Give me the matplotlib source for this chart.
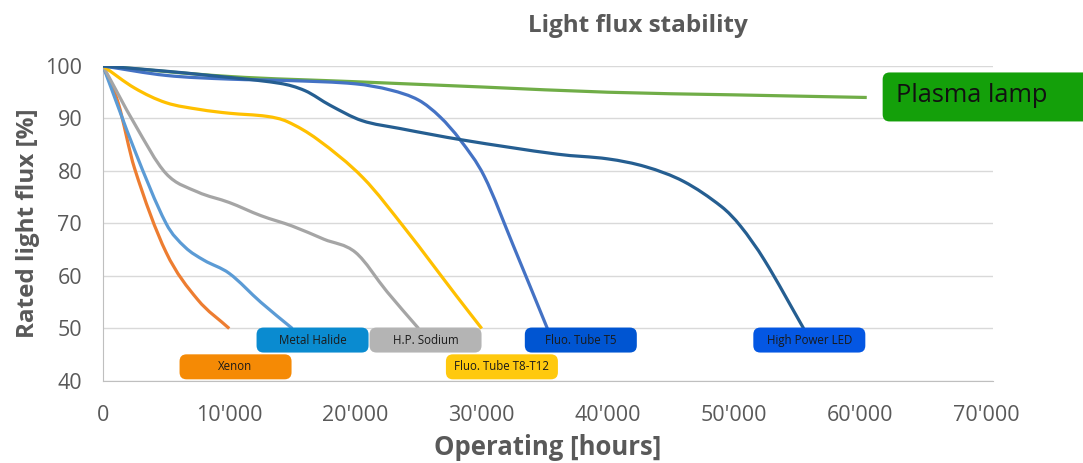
import numpy as np
import matplotlib.pyplot as plt
from matplotlib.path import Path
from matplotlib.patches import PathPatch, FancyBboxPatch
import matplotlib.transforms as mtransforms

plt.rcParams['font.family'] = ['Open Sans', 'DejaVu Sans']

# Operating hours / rated light flux [%] per lamp type
xenon_x = [0, 1200, 2500, 5000, 7500, 10000]
xenon_y = [100, 93, 80.5, 64.5, 55.5, 50]

halide_x = [0, 2500, 5000, 6500, 8000, 10000, 12500, 15000]
halide_y = [100, 84, 70, 65.5, 63, 60.5, 55, 50]

sodium_x = [0, 2500, 5000, 7500, 10000, 12500, 15000, 17500, 20000, 22500, 25000]
sodium_y = [100, 89, 79.5, 76, 74, 71.5, 69.5, 67, 64.5, 57, 50]

t8_x = [0, 2500, 5000, 7700, 10000, 13000, 14600, 17000, 20600, 24000, 28000, 30000]
t8_y = [100, 95.8, 93, 91.7, 91, 90.4, 89.4, 86, 78.7, 68.8, 56.2, 50]

t5_x = [0, 5000, 10000, 15000, 20000, 22800, 25000, 26700, 28300, 30200, 32500, 35200]
t5_y = [100, 98.2, 97.5, 97.2, 96.6, 95.4, 93.5, 90.3, 85.9, 79, 65.8, 50]

led_x = [0, 5000, 8000, 14000, 16000, 18000, 20500, 23500, 28500, 36000, 40000,
         43000, 46000, 49000, 50500, 52400, 55500]
led_y = [100, 99, 98.3, 96.7, 95.3, 92.5, 89.6, 88.1, 85.9, 83.2, 82.3,
         80.8, 78, 73.2, 69.5, 63, 50]

plasma_x = [0, 10000, 20000, 30000, 40000, 50000, 60500]
plasma_y = [100, 98, 97, 96, 95, 94.5, 94]

series = [
    (xenon_x, xenon_y, '#ED7D31'),
    (halide_x, halide_y, '#5B9BD5'),
    (sodium_x, sodium_y, '#A5A5A5'),
    (t8_x, t8_y, '#FFC000'),
    (plasma_x, plasma_y, '#70AD47'),
    (t5_x, t5_y, '#4472C4'),
    (led_x, led_y, '#255E91'),
]

# label boxes: text, centre (hours, %), colour
labels = [
    ('Xenon', 10500, 42.7, '#F58A05'),
    ('Metal Halide', 16600, 47.8, '#0A8BD0'),
    ('H.P. Sodium', 25550, 47.8, '#B4B4B4'),
    ('Fluo. Tube T8-T12', 31600, 42.7, '#FFC90E'),
    ('Fluo. Tube T5', 37850, 47.8, '#0055D2'),
    ('High Power LED', 55950, 47.8, '#0457E3'),
]

xticks = np.arange(0, 70001, 10000)
xtick_labels = ['0', "10'000", "20'000", "30'000", "40'000", "50'000", "60'000", "70'000"]
yticks = np.arange(40, 101, 10)


def smooth_path(xs, ys):
    # cubic Hermite with central-difference slopes, drawn as Bezier segments
    x = np.asarray(xs, float)
    y = np.asarray(ys, float)
    h = np.diff(x)
    m = np.empty_like(y)
    m[0] = (y[1] - y[0]) / h[0]
    m[-1] = (y[-1] - y[-2]) / h[-1]
    m[1:-1] = (y[2:] - y[:-2]) / (x[2:] - x[:-2])
    verts = [(x[0], y[0])]
    codes = [Path.MOVETO]
    for i in range(len(x) - 1):
        verts += [(x[i] + h[i] / 3, y[i] + m[i] * h[i] / 3),
                  (x[i + 1] - h[i] / 3, y[i + 1] - m[i + 1] * h[i] / 3),
                  (x[i + 1], y[i + 1])]
        codes += [Path.CURVE4] * 3
    return Path(verts, codes)


fig = plt.figure(figsize=(10.83, 4.63), dpi=100)
ax = fig.add_axes([0.0951, 0.1771, 0.8218, 0.6804])
ax.set_xlim(0, 70500)
ax.set_ylim(40, 100)

for xs, ys, col in series:
    ax.add_patch(PathPatch(smooth_path(xs, ys), fill=False, edgecolor=col,
                           lw=2.3, capstyle='butt', zorder=3))

ax.set_yticks(yticks)
ax.set_xticks(xticks)
ax.set_xticklabels(xtick_labels)
ax.tick_params(length=0, labelsize=15.5, labelcolor='#595959')
ax.tick_params(axis='x', pad=17)
ax.tick_params(axis='y', pad=15)
ax.grid(axis='y', color='#D9D9D9', lw=1)
ax.set_axisbelow(True)
for s in ['top', 'right']:
    ax.spines[s].set_visible(False)
for s in ['left', 'bottom']:
    ax.spines[s].set_color('#BFBFBF')

ax.set_xlabel('Operating [hours]', fontsize=18.5, fontweight='bold', color='#595959', labelpad=6)
ax.set_ylabel('Rated light flux [%]', fontsize=17.5, fontweight='bold', color='#595959', labelpad=4)
fig.text(0.589, 0.943, 'Light flux stability', ha='center', va='center',
         fontsize=17.5, fontweight='bold', color='#595959')

# rounded label boxes, sized in inches around a data-space centre
for text, cx, cy, col in labels:
    tr = fig.dpi_scale_trans + mtransforms.ScaledTranslation(cx, cy, ax.transData)
    box = FancyBboxPatch((-0.56, -0.125), 1.12, 0.25,
                         boxstyle='round,pad=0,rounding_size=0.07',
                         transform=tr, facecolor=col, edgecolor='none',
                         clip_on=False, zorder=4)
    ax.add_patch(box)
    ax.text(cx, cy, text, ha='center', va='center', fontsize=8.3,
            color='#1A1A1A', zorder=5)

# plasma lamp tag beside the axes
tr = fig.dpi_scale_trans + mtransforms.ScaledTranslation(69760, 94.1, ax.transData)
ax.add_patch(FancyBboxPatch((-1.01, -0.245), 2.1, 0.49,
                            boxstyle='round,pad=0,rounding_size=0.07',
                            transform=tr, facecolor='#14A00A', edgecolor='none',
                            clip_on=False, zorder=4))
ax.text(62850, 94.3, 'Plasma lamp', ha='left', va='center', fontsize=18.3,
        color='#111111', zorder=5, clip_on=False)

fig.savefig('out.png', dpi=100)
